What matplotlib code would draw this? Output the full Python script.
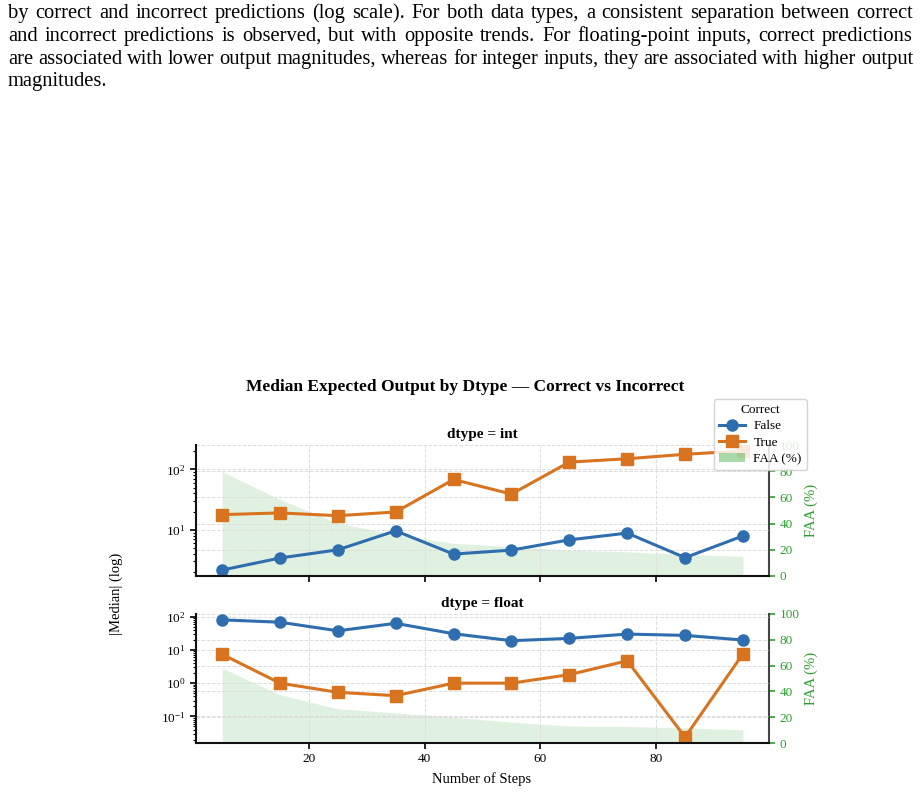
import matplotlib
matplotlib.use('Agg')
import matplotlib.pyplot as plt
from matplotlib.lines import Line2D
from matplotlib.patches import Patch

plt.rcParams['font.family'] = ['Liberation Serif', 'DejaVu Serif']
plt.rcParams['mathtext.fontset'] = 'stix'

# Data
steps = [5, 15, 25, 35, 45, 55, 65, 75, 85, 95]
int_false = [2.15, 3.4, 4.65, 9.6, 3.95, 4.6, 6.8, 8.8, 3.45, 7.9]
int_true = [17.8, 19.0, 17.1, 19.7, 68, 39, 132, 150, 178, 202]
int_faa = [79.7, 58.5, 40.5, 31.5, 25.0, 22.4, 19.8, 18.5, 16.5, 15.0]
float_false = [80, 68, 37.5, 63, 30.6, 18.9, 22.2, 29.9, 27.3, 19.8]
float_true = [7.4, 1.0, 0.53, 0.42, 1.0, 1.0, 1.8, 4.7, 0.0238, 7.6]
float_faa = [58.1, 37.5, 26.5, 23.4, 20.0, 16.2, 13.1, 12.8, 11.8, 10.3]

para_lines = [
    'by correct and incorrect predictions (log scale).  For both data types, a consistent separation between correct',
    'and incorrect predictions is observed, but with opposite trends.  For floating-point inputs, correct predictions',
    'are associated with lower output magnitudes, whereas for integer inputs, they are associated with higher output',
    'magnitudes.',
]

W, H = 921, 793
c_false = '#2f6eae'
c_true = '#d8741f'
c_green = '#2ca02c'

fig = plt.figure(figsize=(W / 100, H / 100), dpi=100)


def px(x, y):
    # pixel (top-left origin) -> figure fraction
    return x / W, 1 - y / H


# paragraph text, justified between x=8 and x=913
renderer = fig.canvas.get_renderer()
fs_par = 14.8
x_left, x_right = 8, 913
for i, line in enumerate(para_lines):
    y = 18 + i * 22.8
    words = line.split()
    if i == len(para_lines) - 1:
        fig.text(*px(x_left, y), line, fontsize=fs_par, va='baseline', ha='left')
        continue
    widths = []
    for w in words:
        t = fig.text(0, 0, w, fontsize=fs_par)
        widths.append(t.get_window_extent(renderer).width)
        t.remove()
    gap = (x_right - x_left - sum(widths)) / (len(words) - 1)
    xx = x_left
    for w, wd in zip(words, widths):
        fig.text(*px(xx, y), w, fontsize=fs_par, va='baseline', ha='left')
        xx += wd + gap

# chart
ax_top = fig.add_axes([196 / W, 1 - 576 / H, 573 / W, 131 / H])
ax_bot = fig.add_axes([196 / W, 1 - 743 / H, 573 / W, 129 / H], sharex=ax_top)

panels = [
    (ax_top, 'dtype = int', int_false, int_true, int_faa),
    (ax_bot, 'dtype = float', float_false, float_true, float_faa),
]

for ax, title, v_false, v_true, v_faa in panels:
    ax2 = ax.twinx()
    ax2.fill_between(steps, 0, v_faa, color=c_green, alpha=0.14, lw=0)
    ax2.set_ylim(0, 100)
    ax2.set_yticks(range(0, 101, 20))
    ax2.tick_params(axis='y', colors=c_green, labelsize=9.5, length=4, width=1.2)
    ax2.set_ylabel('FAA (%)', color=c_green, fontsize=10.5, labelpad=4)
    ax2.grid(True, axis='y', ls='--', color='#dddddd', lw=0.7)
    for s in ['top', 'left', 'bottom']:
        ax2.spines[s].set_visible(False)
    ax2.spines['right'].set_color('#444444')
    ax2.spines['right'].set_linewidth(1.5)

    ax.set_zorder(ax2.get_zorder() + 1)
    ax.patch.set_visible(False)
    ax.plot(steps, v_false, color=c_false, marker='o', ms=8, lw=2.2)
    ax.plot(steps, v_true, color=c_true, marker='s', ms=8, lw=2.2)
    ax.set_yscale('log')
    ax.set_title(title, fontweight='bold', fontsize=11, pad=5)
    ax.grid(True, which='major', ls='--', color='#dddddd', lw=0.7)
    ax.spines['top'].set_visible(False)
    ax.spines['right'].set_visible(False)
    for s in ['left', 'bottom']:
        ax.spines[s].set_linewidth(1.5)
        ax.spines[s].set_color('#111111')
    ax.tick_params(axis='both', which='major', labelsize=9.5, length=4, width=1.2)
    ax.tick_params(axis='y', which='minor', length=2.5, width=0.8)

ax_top.tick_params(axis='x', labelbottom=False)

fig.text(*px(465, 387), 'Median Expected Output by Dtype \u2014 Correct vs Incorrect',
         ha='center', va='center', fontweight='bold', fontsize=12.5)
fig.text(*px(116, 594), '|Median| (log)', ha='center', va='center', rotation=90, fontsize=10.5)
fig.text(*px(482, 779), 'Number of Steps', ha='center', va='center', fontsize=10.5)

handles = [
    Line2D([], [], color=c_false, marker='o', ms=8, lw=2.2, label='False'),
    Line2D([], [], color=c_true, marker='s', ms=8, lw=2.2, label='True'),
    Patch(facecolor=c_green, alpha=0.4, label='FAA (%)'),
]
fig.legend(handles=handles, title='Correct', loc='upper right',
           bbox_to_anchor=px(807, 399), fontsize=9.5, title_fontsize=9.5,
           framealpha=0.85, edgecolor='#cccccc', borderpad=0.4,
           labelspacing=0.3, handletextpad=0.6, borderaxespad=0)

fig.savefig('out.png', dpi=100)
